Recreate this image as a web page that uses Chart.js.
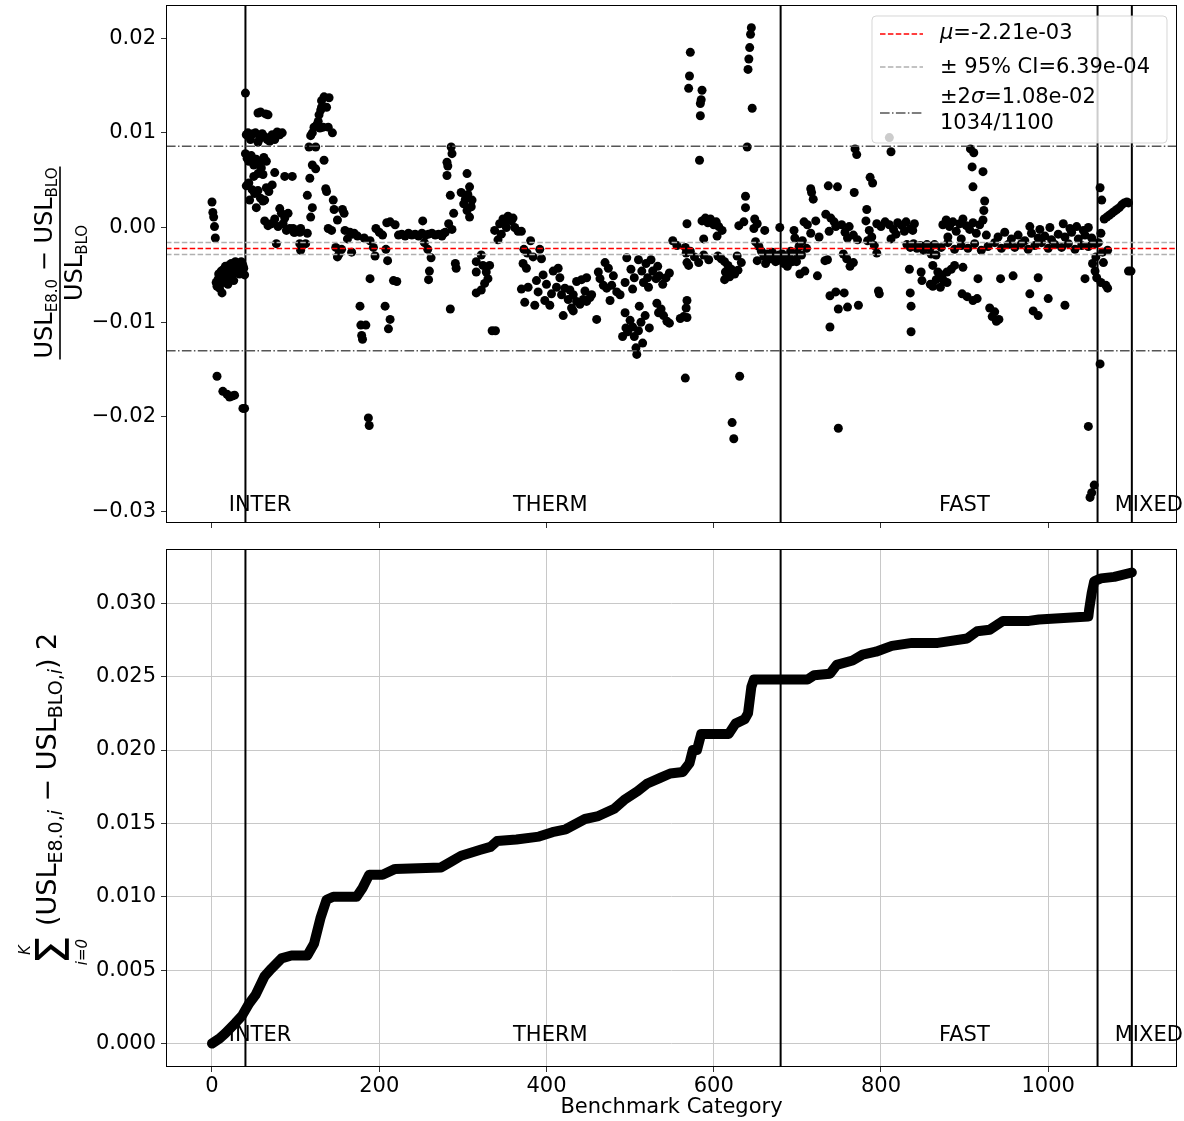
<!DOCTYPE html>
<html><head><meta charset="utf-8">
<script src="https://cdn.jsdelivr.net/npm/chart.js@4.4.0/dist/chart.umd.min.js"></script>
<style>
html,body{margin:0;padding:0;background:#fff;}
#wrap{position:relative;width:1184px;height:1121px;overflow:hidden;}
#c1{position:absolute;left:0;top:0;}
#c2{position:absolute;left:0;top:530px;}
</style></head><body>
<div id="wrap">
<canvas id="c1" width="1184" height="530"></canvas>
<canvas id="c2" width="1184" height="591"></canvas>
</div>
<script>
// ---------------- DATA ----------------
const categories = ['INTER','THERM','FAST','MIXED'];
const categoryBounds = [0, 40, 680, 1059, 1100];   // x positions of category starts/ends
const separatorX = [40, 680, 1059, 1100];          // vertical black lines

const meanVal = -0.00221;
const ciHalf = 0.000639;
const twoSigma = 0.0108;
const legendLabels = ['μ=-2.21e-03', '± 95% CI=6.39e-04', '±2σ=1.08e-02', '1034/1100'];

const xTicks = [0, 200, 400, 600, 800, 1000];
const topYTicks = [-0.03, -0.02, -0.01, 0, 0.01, 0.02];
const bottomYTicks = [0, 0.005, 0.01, 0.015, 0.02, 0.025, 0.03];

const interX = [0,1,2,3,4,5,6,7,8,9,10,11,12,13,14,15,16,17,18,19,20,21,22,23,24,25,26,27,28,29,30,31,32,33,34,35,36,37,38,39,6,13,18,21,24,27,37,39];
const interY = [0.0027,0.0016,0.0011,0.0001,-0.0011,-0.0058,-0.0062,-0.0055,-0.0049,-0.0064,-0.0052,-0.0046,-0.0069,-0.0058,-0.0044,-0.0050,-0.0041,-0.0055,-0.0047,-0.0060,-0.0040,-0.0045,-0.0052,-0.0038,-0.0043,-0.0049,-0.0056,-0.0042,-0.0036,-0.0047,-0.0040,-0.0044,-0.0038,-0.0049,-0.0042,-0.0036,-0.0046,-0.0040,-0.0043,-0.0050,-0.0157,-0.0173,-0.0176,-0.0179,-0.0178,-0.0177,-0.0191,-0.0191];

const thermX = [
40,55,58,64,67,41,43,46,49,52,55,57,60,63,66,69,72,75,78,81,84,40,42,44,47,50,53,56,59,62,65,50,55,61,75,87,96,41,44,48,51,55,58,61,65,68,72,45,53,63,63,67,71,75,81,83,91,87,93,97,98,77,79,85,89,
99,105,106,105,106,116,124,120,124,134,117,114,136,137,120,118,114,112,122,125,129,133,139,120,144,128,131,130,137,134,140,131,127,118,145,146,156,158,150,139,143,159,165,168,148,152,155,150,167,162,
189,193,195,196,200,204,209,213,219,208,210,189,217,221,177,178,184,180,179,207,213,211,187,188,223,227,231,235,239,243,247,251,255,259,263,267,271,275,279,252,254,258,262,260,259,170,174,182,
286,287,281,282,281,285,289,277,287,283,305,308,298,311,301,305,308,303,306,310,291,292,285,322,316,324,332,316,328,330,326,322,316,335,339,338,344,346,350,354,358,362,366,370,342,352,348,360,
381,373,377,372,384,392,394,376,370,378,374,386,388,396,400,398,404,408,414,416,412,418,422,420,390,406,426,430,432,436,440,444,448,452,436,442,448,432,454,428,446,460,
462,470,464,468,472,478,480,484,476,488,474,496,501,505,510,514,519,525,521,527,531,535,539,543,494,503,516,522,547,533,508,507,515,491,495,505,513,523,494,511,500,518,497,503,510,532,537,540,544,547,534,560,564,566,567,551,556,568,567,568,
572,571,570,586,585,584,584,583,645,644,643,642,641,646,640,638,638,586,590,593,596,600,603,606,610,604,588,566,572,577,582,588,594,570,605,609,613,617,621,614,613,619,625,629,633,628,568,568,631,622,624,630,636,649,648,661,652,650,654,657,660,664,668,672,676,679,652,662,670,674,678,679];
const thermY = [
0.0142,0.0121,0.0122,0.0120,0.0119,0.0098,0.0100,0.0093,0.0099,0.0100,0.0090,0.0094,0.0099,0.0096,0.0093,0.0091,0.0098,0.0093,0.0101,0.0098,0.0100,0.0078,0.0073,0.0070,0.0076,0.0066,0.0072,0.0068,0.0063,0.0074,0.0070,0.0054,0.0057,0.0056,0.0058,0.0054,0.0054,0.0044,0.0047,0.0040,0.0036,0.0039,0.0031,0.0028,0.0042,0.0038,0.0045,0.0029,0.0021,0.0029,0.0007,0.0002,0.0004,0.0009,0.0020,0.0015,0.0015,0.0010,-0.0001,-0.0001,-0.0005,-0.0017,0.0001,0.0004,-0.0003,
-0.0005,-0.0005,-0.0001,-0.0017,-0.0024,0.0085,0.0085,0.0066,0.0062,0.0071,0.0052,0.0034,0.0041,0.0038,0.0021,0.0011,-0.0006,-0.0017,0.0106,0.0108,0.0105,0.0106,0.0106,0.0100,0.0100,0.0119,0.0127,0.0124,0.0127,0.0138,0.0137,0.0134,0.0112,0.0097,0.0029,0.0019,0.0019,0.0015,0.0008,-0.0001,-0.0003,-0.0003,-0.0005,-0.0007,-0.0021,-0.0028,-0.0023,-0.0031,-0.0026,-0.0012,
-0.0014,-0.0021,-0.0030,-0.0001,-0.0005,-0.0008,0.0005,0.0006,0.0003,-0.0023,-0.0035,-0.0054,-0.0056,-0.0057,-0.0083,-0.0103,-0.0103,-0.0118,-0.0114,-0.0083,-0.0097,-0.0107,-0.0201,-0.0209,-0.0008,-0.0007,-0.0009,-0.0006,-0.0008,-0.0007,-0.0009,-0.0006,-0.0008,-0.0007,-0.0006,-0.0008,-0.0007,-0.0009,-0.0005,0.0007,-0.0016,-0.0023,-0.0032,-0.0046,-0.0055,-0.0006,-0.0009,-0.0011,
0.0085,0.0078,0.0069,0.0065,0.0055,0.0034,0.0015,-0.0006,-0.0002,0.0004,0.0057,0.0043,0.0037,0.0029,0.0025,0.0018,0.0011,0.0030,0.0035,0.0022,-0.0038,-0.0043,-0.0086,-0.0029,-0.0036,-0.0040,-0.0040,-0.0047,-0.0047,-0.0054,-0.0059,-0.0066,-0.0069,-0.0109,-0.0109,-0.0003,0.0004,-0.0007,0.0006,0.0012,0.0007,0.0000,-0.0004,-0.0004,-0.0013,0.0000,0.0009,0.0010,
-0.0014,-0.0023,-0.0027,-0.0038,-0.0031,-0.0023,-0.0033,-0.0043,-0.0065,-0.0063,-0.0079,-0.0082,-0.0056,-0.0050,-0.0060,-0.0077,-0.0082,-0.0046,-0.0043,-0.0053,-0.0063,-0.0071,-0.0064,-0.0093,-0.0068,-0.0070,-0.0076,-0.0085,-0.0071,-0.0078,-0.0081,-0.0076,-0.0078,-0.0074,-0.0057,-0.0055,-0.0053,-0.0088,-0.0071,-0.0066,-0.0067,-0.0097,
-0.0047,-0.0037,-0.0054,-0.0061,-0.0064,-0.0061,-0.0051,-0.0068,-0.0077,-0.0071,-0.0043,-0.0032,-0.0044,-0.0053,-0.0034,-0.0046,-0.0038,-0.0034,-0.0053,-0.0046,-0.0054,-0.0051,-0.0060,-0.0053,-0.0058,-0.0065,-0.0058,-0.0063,-0.0048,-0.0041,-0.0134,-0.0127,-0.0122,-0.0115,-0.0106,-0.0115,-0.0100,-0.0106,-0.0090,-0.0083,-0.0098,-0.0093,-0.0110,-0.0105,-0.0109,-0.0080,-0.0086,-0.0093,-0.0099,-0.0101,-0.0090,-0.0096,-0.0094,-0.0159,-0.0085,-0.0014,-0.0019,0.0004,-0.0027,-0.0037,
0.0185,0.0160,0.0147,0.0145,0.0135,0.0131,0.0118,0.0071,0.0211,0.0204,0.0190,0.0178,0.0167,0.0126,0.0085,0.0033,0.0021,0.0007,0.0010,0.0005,0.0009,0.0003,0.0006,0.0001,-0.0003,-0.0009,-0.0012,-0.0021,-0.0025,-0.0031,-0.0037,-0.0029,-0.0034,-0.0040,-0.0030,-0.0033,-0.0036,-0.0040,-0.0044,-0.0047,-0.0055,-0.0052,-0.0049,-0.0045,-0.0037,-0.0030,-0.0077,-0.0095,-0.0157,-0.0206,-0.0223,0.0002,0.0006,0.0009,-0.0001,-0.0003,0.0004,-0.0015,-0.0020,-0.0025,-0.0030,-0.0028,-0.0033,-0.0031,-0.0035,-0.0034,-0.0035,-0.0038,-0.0026,-0.0036,-0.0029,0.0000];

const fastX = [
682,686,690,694,698,700,684,688,692,696,697,708,702,705,703,709,699,706,711,716,719,717,712,722,716,726,738,724,737,748,734,740,744,746,733,736,739,746,749,756,760,773,739,749,753,757,762,767,772,760,755,759,763,767,769,771,768,783,787,790,782,786,789,792,795,784,797,798,
795,800,805,810,815,820,825,830,835,840,812,818,828,838,812,810,831,835,839,843,847,851,855,859,834,835,836,836,848,849,859,860,866,862,868,873,879,871,862,879,875,884,888,866,898,897,903,910,915,916,907,911,909,922,910,924,923,922,
874,878,882,886,890,894,898,902,906,910,914,918,926,880,896,
864,872,880,888,896,904,912,920,928,936,944,952,960,968,976,984,992,1000,1008,1016,1024,1032,1040,1048,1056,
940,948,956,964,972,980,988,996,1004,1012,1020,1028,1036,1044,1052,
978,990,1002,1018,1026,1034,1042,1048,930,936,933,938,941,943,958,978,982,988,1000,1020,988,1044,1048,1050,1052,1055,1053,1056,1058,1057];
const fastY = [
-0.0028,-0.0033,-0.0030,-0.0036,-0.0034,-0.0027,-0.0038,-0.0041,-0.0025,-0.0003,-0.0011,0.0006,-0.0020,-0.0029,-0.0049,-0.0046,-0.0036,-0.0014,-0.0022,0.0041,0.0030,0.0037,0.0003,0.0007,-0.0006,-0.0010,-0.0004,-0.0051,0.0044,0.0043,0.0014,0.0010,0.0006,0.0001,-0.0035,-0.0034,-0.0072,-0.0068,-0.0086,-0.0069,-0.0084,-0.0082,-0.0105,-0.0212,0.0003,-0.0005,0.0001,-0.0008,-0.0013,-0.0011,-0.0028,-0.0033,-0.0041,-0.0037,0.0083,0.0077,0.0037,0.0019,0.0053,0.0047,0.0007,-0.0003,-0.0010,-0.0019,-0.0027,-0.0014,-0.0067,-0.0070,
0.0004,0.0001,0.0006,0.0003,-0.0002,0.0005,0.0002,0.0006,-0.0001,0.0004,-0.0012,-0.0007,-0.0004,-0.0003,0.0080,0.0095,-0.0018,-0.0021,-0.0017,-0.0022,-0.0019,-0.0024,-0.0018,-0.0021,-0.0044,-0.0069,-0.0083,-0.0110,-0.0047,-0.0056,-0.0060,-0.0028,-0.0029,-0.0040,-0.0047,-0.0050,-0.0047,-0.0063,-0.0062,-0.0058,-0.0056,-0.0044,-0.0040,-0.0055,-0.0042,-0.0070,-0.0073,-0.0077,-0.0075,-0.0054,0.0083,0.0079,0.0064,0.0059,0.0043,0.0028,0.0018,0.0008,
0.0003,0.0008,0.0001,0.0006,-0.0004,0.0004,0.0009,0.0002,-0.0002,0.0005,-0.0006,0.0003,-0.0008,-0.0010,-0.0012,
-0.0018,-0.0021,-0.0016,-0.0023,-0.0019,-0.0022,-0.0017,-0.0024,-0.0020,-0.0016,-0.0022,-0.0018,-0.0021,-0.0017,-0.0023,-0.0019,-0.0016,-0.0022,-0.0018,-0.0021,-0.0017,-0.0023,-0.0019,-0.0020,-0.0017,
-0.0010,-0.0005,-0.0012,-0.0008,-0.0014,-0.0006,-0.0011,-0.0009,-0.0013,-0.0007,-0.0010,-0.0005,-0.0012,-0.0008,-0.0011,
0.0001,-0.0002,0.0000,0.0004,-0.0001,0.0001,-0.0003,0.0000,-0.0085,-0.0089,-0.0094,-0.0099,-0.0097,-0.0054,-0.0051,-0.0070,-0.0088,-0.0093,-0.0075,-0.0082,-0.0053,-0.0054,-0.0210,-0.0285,-0.0280,-0.0272,-0.0038,-0.0046,-0.0053,-0.0031];

const mixedX = [1062,1064,1062,1063,1060,1065,1071,1066,1063,1069,1071,1067,1070,1073,1076,1079,1082,1085,1088,1091,1094,1096,1096,1099];
const mixedY = [0.0042,0.0029,-0.0144,-0.0006,-0.0016,-0.0026,-0.0024,-0.0037,-0.0058,-0.0061,-0.0064,0.0009,0.0011,0.0013,0.0015,0.0017,0.0019,0.0021,0.0024,0.0026,0.0027,0.0026,-0.0046,-0.0046];

// cumulative sum of squared differences
const cumX = [0,9,16,28,36,44,52,63,71,83,95,114,122,130,137,145,173,180,188,204,219,274,286,298,321,333,341,364,391,407,423,446,462,481,493,509,520,536,548,563,571,575,580,585,618,626,637,641,645,648,712,720,739,747,766,778,794,813,837,868,903,915,930,946,977,989,1048,1049,1052,1055,1063,1079,1100];
const cumY = [0,0.00034,0.0007,0.0014,0.0019,0.0027,0.0033,0.0046,0.0051,0.0058,0.0060,0.0060,0.0068,0.0086,0.0098,0.0100,0.0100,0.0106,0.0115,0.0115,0.0119,0.0120,0.0124,0.0128,0.0132,0.0134,0.0138,0.0139,0.0141,0.0144,0.0146,0.0153,0.0155,0.0160,0.0166,0.0172,0.0177,0.0181,0.0184,0.0185,0.0191,0.0200,0.0200,0.0211,0.0211,0.0218,0.0221,0.0225,0.0243,0.0248,0.0248,0.0251,0.0252,0.0258,0.0261,0.0265,0.0267,0.0271,0.0273,0.0273,0.0276,0.0281,0.0282,0.0288,0.0288,0.0289,0.0291,0.0296,0.0307,0.0315,0.0317,0.0318,0.0321];

// ---------------- CHART ----------------
const FONT = 'DejaVu Sans';
Chart.defaults.font.family = FONT;
Chart.defaults.color = '#000';

const X_MIN = -55, X_MAX = 1154;
const TOP_MIN = -0.0312, TOP_MAX = 0.0235;
const BOT_MIN = -0.0016, BOT_MAX = 0.0337;

function zipXY(xs, ys){ return xs.map((x,i)=>({x:x, y:ys[i]})); }
function hLine(y, color, dash, w){
  return {type:'scatter', data:[{x:X_MIN,y:y},{x:X_MAX,y:y}], showLine:true, pointRadius:0,
    borderColor:color, borderDash:dash, borderWidth:w, order:1};
}
function vLines(ymin, ymax){
  return separatorX.map(x=>({type:'scatter', data:[{x:x,y:ymin},{x:x,y:ymax}], showLine:true,
    pointRadius:0, borderColor:'#000', borderWidth:2, order:2}));
}
const dashed = [5.5, 2.4];
const dashDot = [9.6, 2.4, 1.5, 2.4];

function minusFmt(v, d){ return (v < -1e-12 ? '\u2212' : '') + Math.abs(v).toFixed(d); }
function noPad(s){ s.paddingTop = 0; s.paddingBottom = 0; s.paddingLeft = 0; s.paddingRight = 0; }

const framePlugin = {
  id:'frame',
  afterDraw(chart){
    const {ctx, chartArea:a} = chart;
    ctx.save(); ctx.strokeStyle = '#000'; ctx.lineWidth = 1;
    ctx.strokeRect(Math.round(a.left)+0.5, Math.round(a.top)+0.5, Math.round(a.right-a.left)-1, Math.round(a.bottom-a.top)-1);
    ctx.restore();
  }
};
function catLabelPlugin(yVal){
  return {
    id:'catLabels',
    afterDatasetsDraw(chart){
      const {ctx, scales:{x, y}} = chart;
      ctx.save(); ctx.font = '21px ' + FONT; ctx.fillStyle = '#000';
      ctx.textAlign = 'left'; ctx.textBaseline = 'alphabetic';
      categories.forEach((c,i)=>{
        const mid = (categoryBounds[i] + categoryBounds[i+1]) / 2;
        ctx.fillText(c, x.getPixelForValue(mid), y.getPixelForValue(yVal));
      });
      ctx.restore();
    }
  };
}
function richWidth(ctx, parts){
  let w = 0;
  parts.forEach(p=>{ ctx.font = (p.it?'italic ':'') + p.s + 'px ' + FONT; w += ctx.measureText(p.t).width; });
  return w;
}
function drawRich(ctx, parts, u0, v0){
  let u = u0;
  parts.forEach(p=>{
    ctx.font = (p.it?'italic ':'') + p.s + 'px ' + FONT;
    ctx.fillText(p.t, u, v0 + (p.dy||0));
    u += ctx.measureText(p.t).width;
  });
}

const topLabelPlugin = {
  id:'topLabel',
  afterDraw(chart){
    const ctx = chart.ctx;
    ctx.save();
    ctx.translate(60, 263); ctx.rotate(-Math.PI/2);
    ctx.fillStyle = '#000'; ctx.textAlign = 'left'; ctx.textBaseline = 'alphabetic';
    const num = [{t:'USL',s:24},{t:'E8.0',s:15,dy:5},{t:' \u2212 ',s:24},{t:'USL',s:24},{t:'BLO',s:15,dy:5}];
    const den = [{t:'USL',s:24},{t:'BLO',s:15,dy:5}];
    const wn = richWidth(ctx, num), wd = richWidth(ctx, den);
    drawRich(ctx, num, -wn/2, -8);
    drawRich(ctx, den, -wd/2, 22);
    ctx.fillRect(-wn/2 - 1, -0.8, wn + 2, 1.6);
    ctx.restore();
  }
};
const bottomLabelPlugin = {
  id:'bottomLabel',
  afterDraw(chart){
    const ctx = chart.ctx;
    ctx.save();
    ctx.translate(0, 950 - 530); ctx.rotate(-Math.PI/2);
    ctx.fillStyle = '#000'; ctx.textBaseline = 'alphabetic';
    ctx.textAlign = 'center';
    ctx.font = '46px ' + FONT; ctx.fillText('\u03A3', 0, 69);
    ctx.font = 'italic 15px ' + FONT; ctx.fillText('K', 0, 30);
    ctx.fillText('i=0', -2, 87);
    ctx.textAlign = 'left';
    const parts = [{t:'(',s:27},{t:'USL',s:27},{t:'E8.0,',s:19,dy:6},{t:'i',s:19,dy:6,it:true},
      {t:' \u2212 ',s:27},{t:'USL',s:27},{t:'BLO,',s:19,dy:6},{t:'i',s:19,dy:6,it:true},{t:')',s:27},{t:' 2',s:27}];
    drawRich(ctx, parts, 24, 56);
    ctx.restore();
  }
};
const legendPlugin = {
  id:'customLegend',
  afterDraw(chart){
    const ctx = chart.ctx;
    ctx.save();
    const bx = 872, by = 16, bw = 295, bh = 127, r = 4;
    ctx.beginPath();
    ctx.moveTo(bx+r, by); ctx.lineTo(bx+bw-r, by); ctx.quadraticCurveTo(bx+bw, by, bx+bw, by+r);
    ctx.lineTo(bx+bw, by+bh-r); ctx.quadraticCurveTo(bx+bw, by+bh, bx+bw-r, by+bh);
    ctx.lineTo(bx+r, by+bh); ctx.quadraticCurveTo(bx, by+bh, bx, by+bh-r);
    ctx.lineTo(bx, by+r); ctx.quadraticCurveTo(bx, by, bx+r, by); ctx.closePath();
    ctx.fillStyle = 'rgba(255,255,255,0.8)'; ctx.fill();
    ctx.strokeStyle = 'rgba(204,204,204,0.8)'; ctx.lineWidth = 1; ctx.stroke();
    const items = [
      {y:34, color:'#ff0000', dash:dashed},
      {y:67, color:'#b0b0b0', dash:dashed},
      {y:113, color:'#555555', dash:dashDot}
    ];
    items.forEach(it=>{
      ctx.beginPath(); ctx.setLineDash(it.dash); ctx.strokeStyle = it.color; ctx.lineWidth = 1.5;
      ctx.moveTo(880, it.y); ctx.lineTo(923, it.y); ctx.stroke();
    });
    ctx.setLineDash([]);
    ctx.fillStyle = '#000'; ctx.textAlign = 'left'; ctx.textBaseline = 'middle';
    drawRich(ctx, [{t:legendLabels[0].slice(0,1),s:21,it:true},{t:legendLabels[0].slice(1),s:21}], 940, 34);
    drawRich(ctx, [{t:legendLabels[1],s:21}], 940, 68);
    drawRich(ctx, [{t:legendLabels[2].slice(0,2),s:21},{t:legendLabels[2].slice(2,3),s:21,it:true},{t:legendLabels[2].slice(3),s:21}], 940, 98);
    drawRich(ctx, [{t:legendLabels[3],s:21}], 940, 124);
    ctx.restore();
  }
};

const tickFont = {size:21, family:FONT};

new Chart(document.getElementById('c1'), {
  type:'scatter',
  data:{datasets:[
    {data:zipXY(interX, interY), backgroundColor:'#000', borderWidth:0, pointRadius:4.5, order:10},
    {data:zipXY(thermX, thermY), backgroundColor:'#000', borderWidth:0, pointRadius:4.5, order:10},
    {data:zipXY(fastX, fastY), backgroundColor:'#000', borderWidth:0, pointRadius:4.5, order:10},
    {data:zipXY(mixedX, mixedY), backgroundColor:'#000', borderWidth:0, pointRadius:4.5, order:10},
    hLine(meanVal + twoSigma, '#555555', dashDot, 1.5),
    hLine(meanVal - twoSigma, '#555555', dashDot, 1.5),
    hLine(meanVal + ciHalf, '#b0b0b0', dashed, 1.5),
    hLine(meanVal - ciHalf, '#b0b0b0', dashed, 1.5),
    hLine(meanVal, '#ff0000', dashed, 1.5),
    ...vLines(TOP_MIN, TOP_MAX)
  ]},
  options:{
    responsive:false, animation:false, events:[],
    layout:{padding:{top:5, right:7, left:0, bottom:0}},
    plugins:{legend:{display:false}, tooltip:{enabled:false}},
    scales:{
      x:{type:'linear', min:X_MIN, max:X_MAX,
        afterBuildTicks:s=>{ s.ticks = xTicks.map(v=>({value:v})); },
        afterFit:s=>{ s.height = 7; noPad(s); },
        ticks:{autoSkip:false, callback:()=>'', font:tickFont},
        grid:{drawOnChartArea:false, drawTicks:true, tickLength:5, tickColor:'#333'},
        border:{display:false}},
      y:{type:'linear', min:TOP_MIN, max:TOP_MAX,
        afterBuildTicks:s=>{ s.ticks = topYTicks.map(v=>({value:v})); },
        afterFit:s=>{ s.width = 166; noPad(s); },
        ticks:{autoSkip:false, callback:v=>minusFmt(v,2), font:tickFont, color:'#000', padding:5},
        grid:{drawOnChartArea:false, drawTicks:true, tickLength:5, tickColor:'#333'},
        border:{display:false}}
    }
  },
  plugins:[catLabelPlugin(-0.0299), framePlugin, topLabelPlugin, legendPlugin]
});

new Chart(document.getElementById('c2'), {
  type:'scatter',
  data:{datasets:[
    {data:zipXY(cumX, cumY), showLine:true, pointRadius:0, borderColor:'#000', borderWidth:10,
      borderCapStyle:'round', borderJoinStyle:'round', order:10},
    ...vLines(BOT_MIN, BOT_MAX)
  ]},
  options:{
    responsive:false, animation:false, events:[],
    layout:{padding:{top:19, right:7, left:0, bottom:0}},
    plugins:{legend:{display:false}, tooltip:{enabled:false}},
    scales:{
      x:{type:'linear', min:X_MIN, max:X_MAX,
        afterBuildTicks:s=>{ s.ticks = xTicks.map(v=>({value:v})); },
        afterFit:s=>{ s.height = 54; noPad(s); },
        ticks:{autoSkip:false, maxRotation:0, callback:v=>String(v), font:tickFont, color:'#000', padding:2},
        grid:{drawOnChartArea:true, color:'#c8c8c8', lineWidth:1, drawTicks:true, tickLength:5, tickColor:'#333'},
        border:{display:false},
        title:{display:true, text:'Benchmark Category', font:{size:21, family:FONT}, color:'#000', padding:{top:0, bottom:1}}},
      y:{type:'linear', min:BOT_MIN, max:BOT_MAX,
        afterBuildTicks:s=>{ s.ticks = bottomYTicks.map(v=>({value:v})); },
        afterFit:s=>{ s.width = 166; noPad(s); },
        ticks:{autoSkip:false, callback:v=>v.toFixed(3), font:tickFont, color:'#000', padding:5},
        grid:{drawOnChartArea:true, color:'#c8c8c8', lineWidth:1, drawTicks:true, tickLength:5, tickColor:'#333'},
        border:{display:false}}
    }
  },
  plugins:[catLabelPlugin(0.0002), framePlugin, bottomLabelPlugin]
});
</script>
</body></html>
